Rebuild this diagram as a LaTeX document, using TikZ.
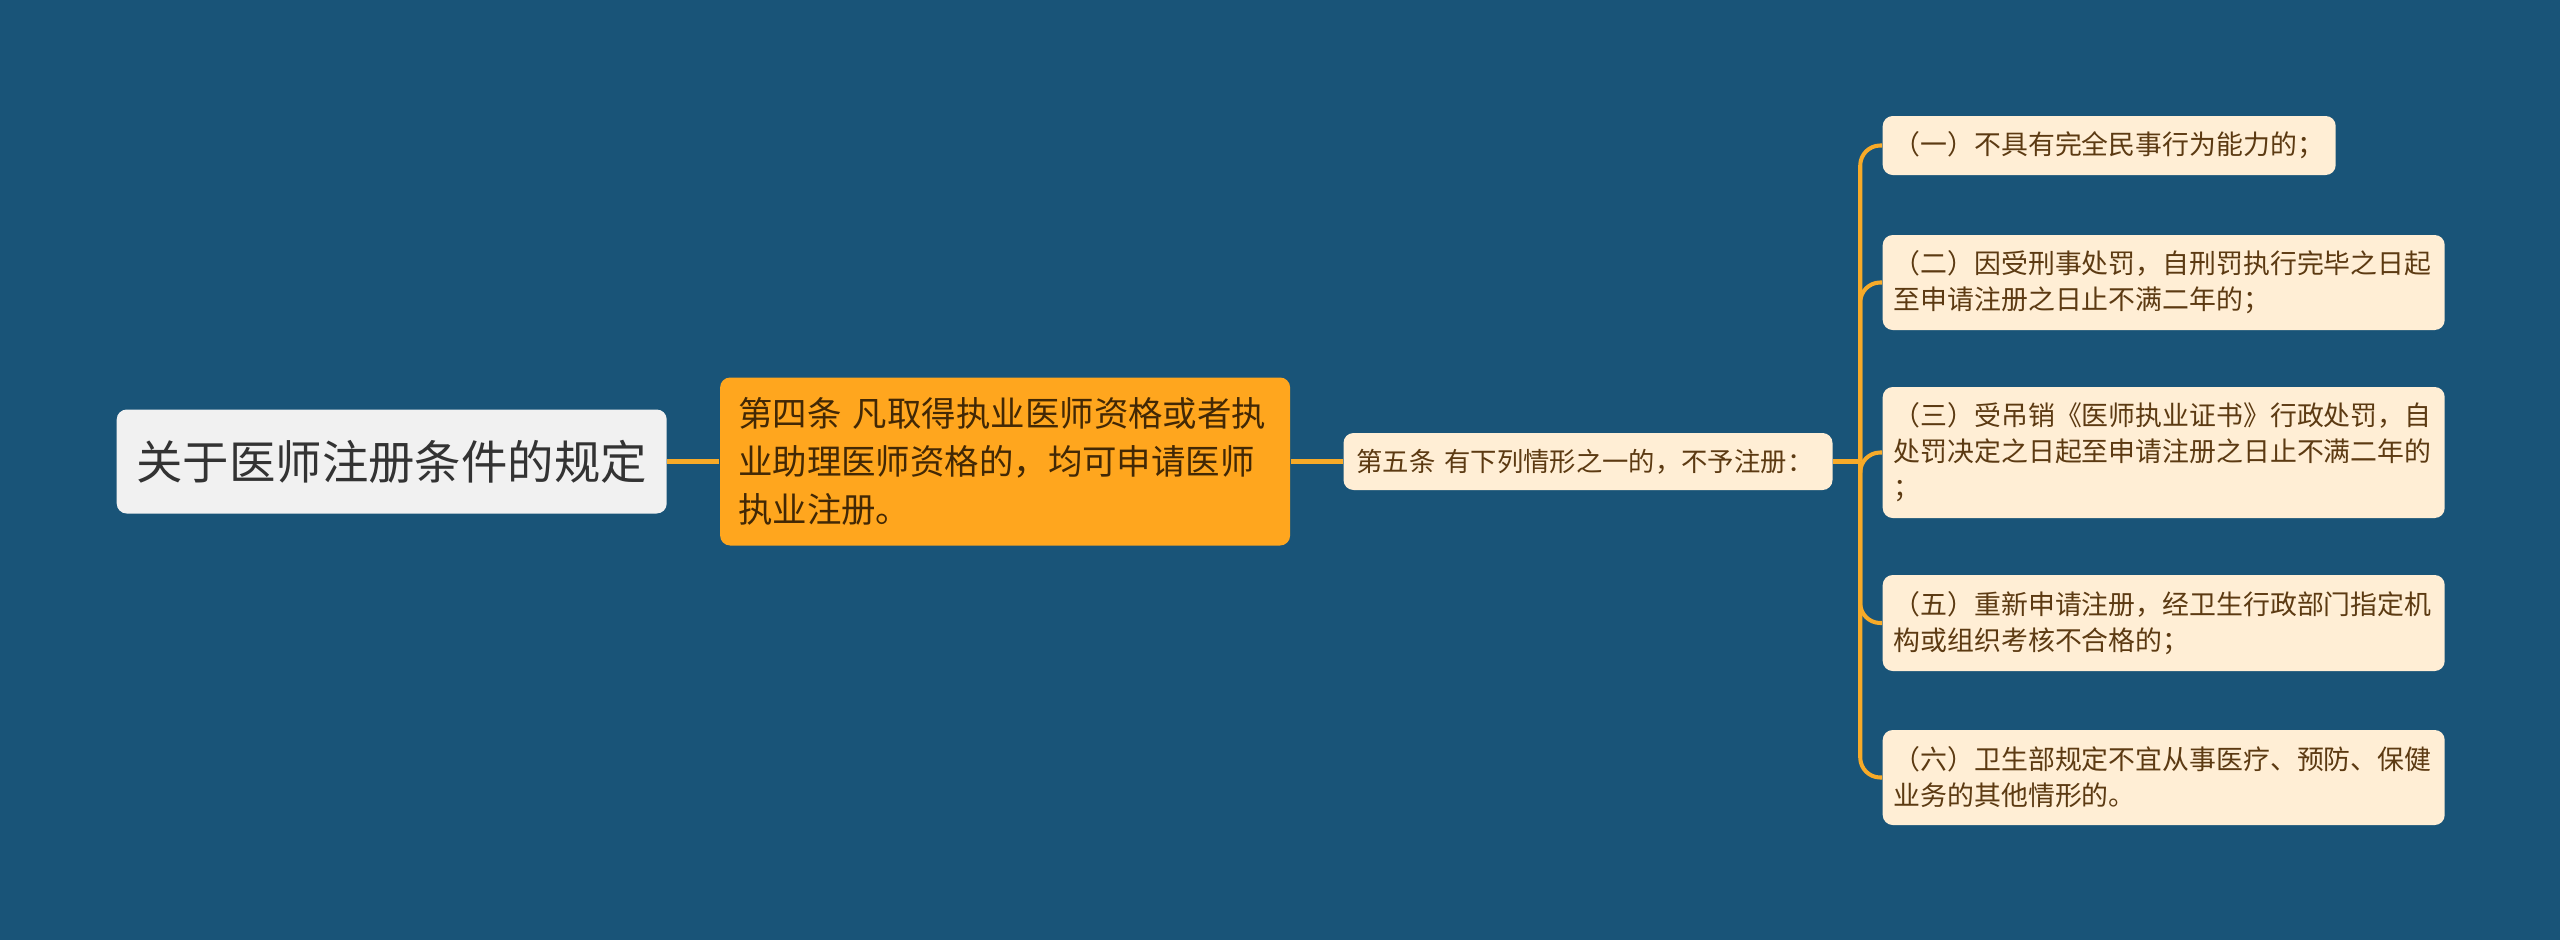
\documentclass[tikz,border=0pt]{standalone}
\usepackage{fontspec}
\setmainfont{Noto Sans CJK SC}
\usetikzlibrary{positioning}

\definecolor{bgblue}{RGB}{25,84,120}
\definecolor{rootgray}{RGB}{241,241,241}
\definecolor{mainorange}{RGB}{255,166,30}
\definecolor{leafcream}{RGB}{255,238,213}
\definecolor{linkorange}{RGB}{247,170,40}
\definecolor{roottext}{RGB}{51,51,51}
\definecolor{maintext}{RGB}{66,40,5}
\definecolor{leaftext}{RGB}{92,58,18}

\tikzset{
  box/.style={rounded corners=0.1cm, inner ysep=0pt, align=left},
  rootbox/.style={box, fill=rootgray, text=roottext, align=center,
    minimum width=5.5cm, minimum height=1.04cm,
    font=\fontsize{13.2}{16}\selectfont},
  mainbox/.style={box, fill=mainorange, text=maintext,
    inner xsep=0.18cm, text width=5.34cm, minimum height=1.68cm,
    font=\fontsize{9.8}{13.7}\selectfont},
  subbox/.style={box, fill=leafcream, text=leaftext,
    inner xsep=0.13cm, text width=4.63cm, minimum height=0.57cm,
    font=\fontsize{7.5}{10.2}\selectfont},
  leafbox/.style={box, fill=leafcream, text=leaftext, anchor=west,
    inner xsep=0.11cm, text width=5.40cm,
    font=\fontsize{7.65}{10.2}\selectfont},
  link/.style={draw=linkorange, line width=1.15pt},
}

\begin{document}
\begin{tikzpicture}
\fill[bgblue] (0,0) rectangle (25.6,9.4);
\useasboundingbox (0,0) rectangle (25.6,9.4);

% main branch
\node[rootbox, anchor=west] (root) at (1.16,4.785) {关于医师注册条件的规定};
\node[mainbox, right=0.52cm of root] (art4) {第四条 凡取得执业医师资格或者执\\业助理医师资格的，均可申请医师\\执业注册。};
\node[subbox, right=0.52cm of art4] (art5) {第五条 有下列情形之一的，不予注册：};
\coordinate[right=0.27cm of art5] (trunk);

% cases
\node[leafbox, text width=4.31cm, minimum height=0.59cm] (c1) at (18.82,7.945) {（一）不具有完全民事行为能力的；};
\node[leafbox, minimum height=0.95cm] (c2) at (18.82,6.575) {（二）因受刑事处罚，自刑罚执行完毕之日起\\至申请注册之日止不满二年的；};
\node[leafbox, minimum height=1.31cm] (c3) at (18.82,4.875) {（三）受吊销《医师执业证书》行政处罚，自\\处罚决定之日起至申请注册之日止不满二年的\\；};
\node[leafbox, minimum height=0.96cm] (c5) at (18.82,3.17) {（五）重新申请注册，经卫生行政部门指定机\\构或组织考核不合格的；};
\node[leafbox, minimum height=0.95cm] (c6) at (18.82,1.625) {（六）卫生部规定不宜从事医疗、预防、保健\\业务的其他情形的。};

\draw[link] (root) -- (art4);
\draw[link] (art4) -- (art5);
\draw[link] (art5) -- (trunk);
\foreach \c in {c1,c2,c3,c5,c6}
  \draw[link, rounded corners=0.2cm] (trunk) |- (\c.west);
\end{tikzpicture}
\end{document}
